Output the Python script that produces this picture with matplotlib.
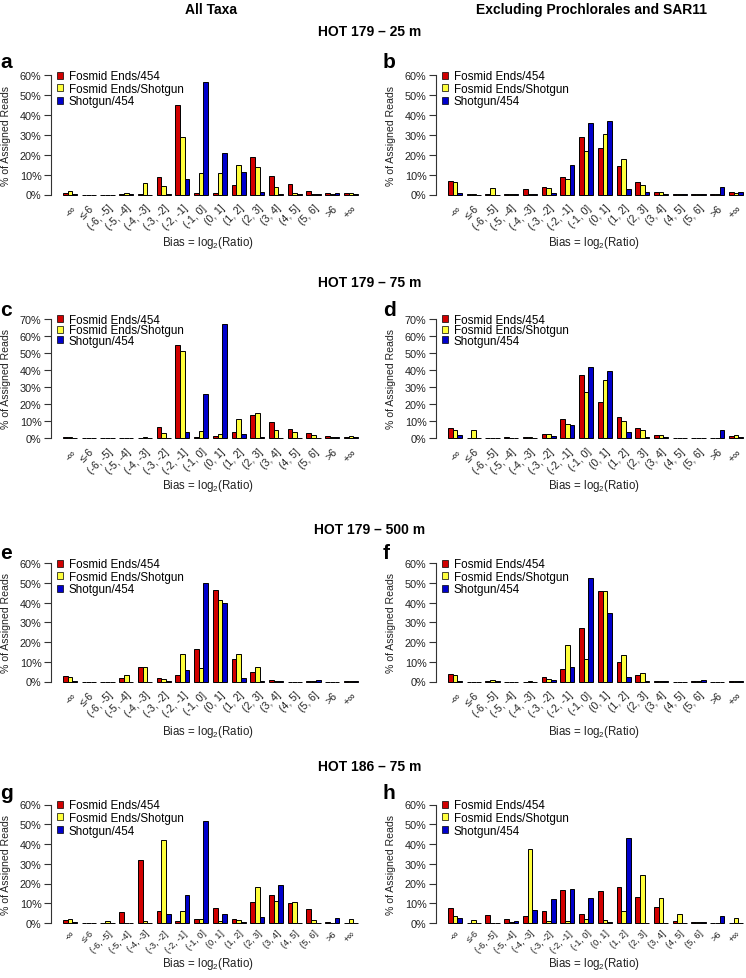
import matplotlib
matplotlib.use("Agg")
import matplotlib.pyplot as plt
from matplotlib.patches import Patch
import numpy as np

plt.rcParams['font.family'] = ['Liberation Sans', 'DejaVu Sans']
plt.rcParams['mathtext.fontset'] = 'custom'
plt.rcParams['mathtext.rm'] = 'Liberation Sans'

categories = ["-\u221e", "\u2264-6", "(-6, -5]", "(-5, -4]", "(-4, -3]", "(-3, -2]",
              "(-2, -1]", "(-1, 0]", "(0, 1]", "(1, 2]", "(2, 3]", "(3, 4]",
              "(4, 5]", "(5, 6]", ">6", "+\u221e"]
series_names = ["Fosmid Ends/454", "Fosmid Ends/Shotgun", "Shotgun/454"]
series_colors = ["#D10000", "#FFFF3C", "#0000CC"]

# Panel a: HOT 179 - 25 m, all taxa
a_fosmid_454 = [1, 0, 0, 0.3, 0.5, 9, 45, 1, 1, 5, 19, 9.5, 5.5, 2, 0.7, 0.8]
a_fosmid_shotgun = [2, 0, 0, 1, 6, 4.5, 29, 11, 11, 15, 14, 4, 1, 0.3, 0.3, 0.8]
a_shotgun_454 = [0.3, 0, 0, 0.2, 0, 0.2, 8, 56.5, 21, 11.5, 1.5, 0.3, 0.3, 0.1, 1, 0.4]
# Panel b: HOT 179 - 25 m, excluding Prochlorales and SAR11
b_fosmid_454 = [7, 0.2, 0.2, 0.3, 3, 4, 9, 29, 23.5, 14.5, 6.5, 1.5, 0.5, 0.2, 0.2, 1.2]
b_fosmid_shotgun = [6.5, 0.2, 3.5, 0.3, 0.3, 3.5, 8, 22, 30.5, 18, 5, 1.5, 0.3, 0.2, 0.2, 1]
b_shotgun_454 = [1, 0, 0, 0.1, 0.3, 1, 15, 36, 37, 3, 1.5, 0.5, 0.2, 0.1, 4, 1.2]
# Panel c: HOT 179 - 75 m, all taxa
c_fosmid_454 = [0.5, 0, 0, 0, 0.2, 6.5, 54.5, 0.5, 1, 3.5, 13.5, 9.5, 5.5, 3, 1, 0.5]
c_fosmid_shotgun = [0.5, 0, 0, 0, 0.5, 3, 51, 4, 2.5, 11, 14.5, 5, 3.5, 1.5, 0.5, 1]
c_shotgun_454 = [0.2, 0, 0, 0, 0, 0.2, 3.5, 26, 67, 2.5, 0.3, 0.2, 0.2, 0.2, 0.5, 0.5]
# Panel d: HOT 179 - 75 m, excluding Prochlorales and SAR11
d_fosmid_454 = [6, 0.2, 0, 0.3, 0.3, 2.5, 11, 37, 21, 12.5, 6, 2, 0.2, 0.2, 0.2, 1]
d_fosmid_shotgun = [5, 5, 0, 0, 0.3, 2.5, 8, 27, 34, 10, 4.5, 1.5, 0.2, 0.2, 0, 1.5]
d_shotgun_454 = [1.5, 0, 0, 0.1, 0.1, 1, 7.5, 42, 39.5, 3.5, 0.5, 0.3, 0, 0, 5, 0.5]
# Panel e: HOT 179 - 500 m, all taxa
e_fosmid_454 = [3, 0, 0, 2, 7.5, 2, 3.5, 16.5, 46.5, 11.5, 5, 0.7, 0, 0.2, 0, 0.3]
e_fosmid_shotgun = [2.5, 0, 0, 3.5, 7.5, 1.5, 14, 7, 41.5, 14, 7.5, 0.5, 0, 0.2, 0, 0.3]
e_shotgun_454 = [0.3, 0, 0, 0, 0, 0.5, 6, 50, 40, 2, 0.2, 0.2, 0, 0.7, 0, 0.3]
# Panel f: HOT 179 - 500 m, excluding Prochlorales and SAR11
f_fosmid_454 = [4, 0, 0.2, 0, 0, 2.5, 6.5, 27, 46, 10, 3.5, 0.3, 0, 0.2, 0, 0.3]
f_fosmid_shotgun = [3.5, 0, 1, 0, 0.2, 1.5, 18.5, 11.5, 46, 13.5, 4.5, 0.3, 0, 0.2, 0, 0.3]
f_shotgun_454 = [0.5, 0, 0.2, 0, 0, 0.7, 7.5, 52.5, 35, 2.5, 0.2, 0.2, 0, 1, 0, 0.3]
# Panel g: HOT 186 - 75 m, all taxa
g_fosmid_454 = [1.5, 0, 0.2, 5.5, 32, 6, 1, 2, 7.5, 2, 10.5, 14, 10, 7, 0.7, 0.2]
g_fosmid_shotgun = [2, 0, 1, 0.2, 1, 42, 6, 2, 1, 1.5, 18, 11, 10.5, 1.5, 0.2, 2]
g_shotgun_454 = [0.5, 0, 0.2, 0, 0.2, 4.5, 14, 51.5, 4.5, 0.5, 3, 19, 0, 0.2, 2.5, 0]
# Panel h: HOT 186 - 75 m, excluding Prochlorales and SAR11
h_fosmid_454 = [7.5, 0.2, 4, 2, 3.5, 6, 16.5, 4.5, 16, 18, 13, 8, 1, 0.3, 0.2, 0.2]
h_fosmid_shotgun = [3.5, 1.5, 0.2, 0.7, 37.5, 1, 1, 2, 1.5, 6, 24.5, 12.5, 4.5, 0.3, 0.2, 2.5]
h_shotgun_454 = [2.5, 0, 0, 1, 6.5, 12, 17, 12.5, 0.5, 43, 0.2, 0.2, 0, 0.5, 3.5, 0]

panel_letters = ["a", "b", "c", "d", "e", "f", "g", "h"]
row_titles = ["HOT 179 \u2013 25 m", "HOT 179 \u2013 75 m", "HOT 179 \u2013 500 m", "HOT 186 \u2013 75 m"]
row_ymax = [60, 70, 60, 60]
col_titles = ["All Taxa", "Excluding Prochlorales and SAR11"]

panels = [
    (a_fosmid_454, a_fosmid_shotgun, a_shotgun_454),
    (b_fosmid_454, b_fosmid_shotgun, b_shotgun_454),
    (c_fosmid_454, c_fosmid_shotgun, c_shotgun_454),
    (d_fosmid_454, d_fosmid_shotgun, d_shotgun_454),
    (e_fosmid_454, e_fosmid_shotgun, e_shotgun_454),
    (f_fosmid_454, f_fosmid_shotgun, f_shotgun_454),
    (g_fosmid_454, g_fosmid_shotgun, g_shotgun_454),
    (h_fosmid_454, h_fosmid_shotgun, h_shotgun_454),
]

W, H = 746, 979
fig = plt.figure(figsize=(W / 100, H / 100), dpi=100)

# layout in pixels
col_bar_start = [63, 448]
bar_span = 295.0
sx = bar_span / 63.0
row_y0 = [195.5, 439, 682.5, 924]
row_ytop = [76.3, 320, 564.3, 805.5]
row_title_y = [32, 283, 530, 767]
row_xlabel_y = [243, 486, 732, 964]
row_letter_base = [68, 316, 559, 799]
row_tick_size = [7.6, 7.6, 7.6, 6.6]
row_tick_pad = [4, 4, 4, 2]
col_letter_x = [0, 383]
col_xlabel_x = [208, 594]
col_ylabel_x = [6, 391]
row_legend_spacing = [0.05, -0.15, 0.05, 0.05]

xl, xr = -1.52, 66.52
n = len(categories)
group_x = np.arange(n) * 4 + 1

for idx, series in enumerate(panels):
    r, c = divmod(idx, 2)
    top = row_ymax[r]
    sy = (row_y0[r] - row_ytop[r]) / top
    yb, yt = -0.02 * top, top * 1.01
    left_px = col_bar_start[c] - (1 - xl) * sx
    right_px = col_bar_start[c] + bar_span + (xr - 64) * sx
    bot_px = row_y0[r] + (-yb) * sy
    top_px = row_ytop[r] - (yt - top) * sy
    ax = fig.add_axes([left_px / W, 1 - bot_px / H, (right_px - left_px) / W, (bot_px - top_px) / H])
    for j, vals in enumerate(series):
        ax.bar(group_x + j, vals, width=1.0, align='edge', color=series_colors[j],
               edgecolor='black', linewidth=0.7)
    ax.set_xlim(xl, xr)
    ax.set_ylim(yb, yt)
    for s in ['top', 'right', 'bottom']:
        ax.spines[s].set_visible(False)
    ax.spines['left'].set_bounds(0, top)
    ax.spines['left'].set_linewidth(0.8)
    ax.spines['left'].set_color('#333333')
    yt_vals = np.arange(0, top + 1, 10)
    ax.set_yticks(yt_vals)
    ax.set_yticklabels([f"{int(v)}%" for v in yt_vals], fontsize=7.8, color='#222222')
    ax.tick_params(axis='y', direction='out', length=5, width=0.8, pad=2, color='#333333')
    ax.set_xticks(group_x + 1.5)
    ax.set_xticklabels(categories, rotation=45, ha='right', va='top',
                       rotation_mode='anchor', fontsize=row_tick_size[r], color='#222222')
    ax.tick_params(axis='x', length=0, pad=row_tick_pad[r])
    ax.patch.set_visible(False)
    handles = [Patch(facecolor=series_colors[k], edgecolor='black', linewidth=0.5)
               for k in range(3)]
    fig.legend(handles, series_names, loc='upper left',
               bbox_to_anchor=((col_bar_start[c] - 6) / W, 1 - (row_ytop[r] - 5) / H),
               bbox_transform=fig.transFigure, frameon=False, fontsize=8.4,
               handlelength=0.55, handleheight=0.55, handletextpad=0.45,
               borderpad=0, borderaxespad=0, labelspacing=row_legend_spacing[r])
    fig.text(col_letter_x[c] / W, 1 - row_letter_base[r] / H, panel_letters[idx],
             fontsize=15, fontweight='bold', ha='left', va='baseline')
    fig.text(col_xlabel_x[c] / W, 1 - row_xlabel_y[r] / H,
             r"Bias = log$_{\mathregular{2}}$(Ratio)", fontsize=8.3,
             ha='center', va='center', color='#222222')
    fig.text(col_ylabel_x[c] / W, 1 - (row_y0[r] + row_ytop[r]) / 2 / H,
             "% of Assigned Reads", fontsize=7.6, rotation=90,
             ha='center', va='center', color='#222222')

for r in range(4):
    fig.text(370 / W, 1 - row_title_y[r] / H, row_titles[r], fontsize=10,
             fontweight='bold', ha='center', va='center')

fig.text(211 / W, 1 - 10 / H, col_titles[0], fontsize=10, fontweight='bold', ha='center', va='center')
fig.text(591 / W, 1 - 10 / H, col_titles[1], fontsize=10, fontweight='bold', ha='center', va='center')

fig.savefig("out.png", dpi=100)
